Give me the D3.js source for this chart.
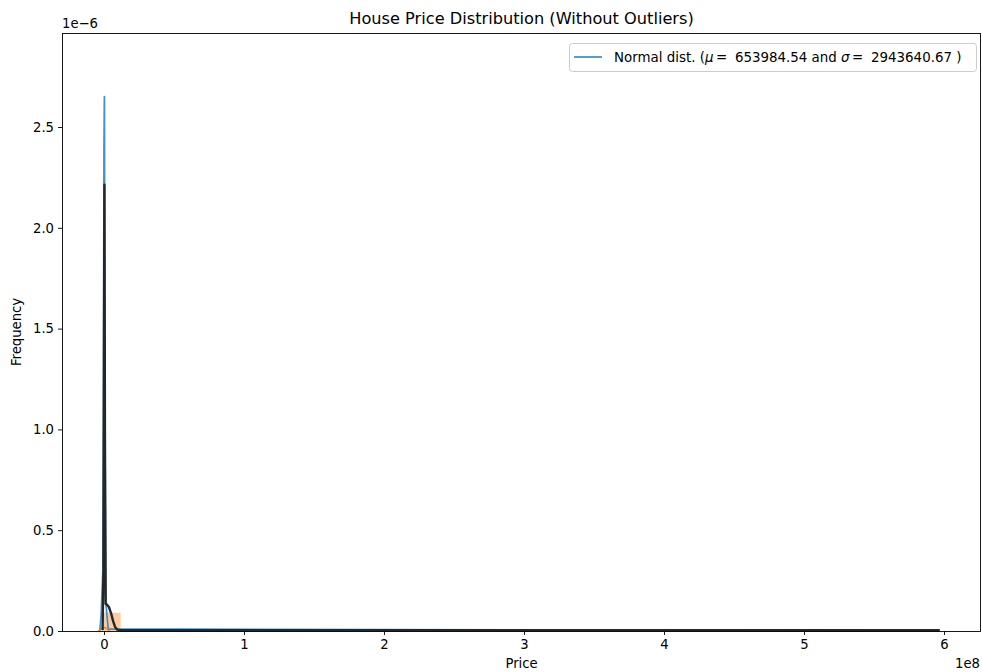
<!DOCTYPE html>
<html><head><meta charset="utf-8">
<script src="https://cdn.jsdelivr.net/npm/d3@7"></script>
<style>body{margin:0;background:#fff}svg{display:block;font-family:"DejaVu Sans",sans-serif}</style>
</head><body><svg id="c" width="982" height="672"></svg>
<script>
// values: x in units of 1e8, density in units of 1e-6
const xTicks = [0, 1, 2, 3, 4, 5, 6];
const yTicks = [0.0, 0.5, 1.0, 1.5, 2.0, 2.5];
const histStarts = [0.000, 0.119, 0.238];
const histWidth = 0.119;
const histDensity = [0.091, 0.001, 0.0005];
const kdeX = [-0.030, -0.020, -0.008, -0.003, 0.000, 0.003, 0.007, 0.012, 0.03, 5.97];
const kdeY = [0.0, 0.08, 0.30, 1.20, 2.40, 2.65, 1.00, 0.15, 0.01, 0.0];
const smallX = [-0.04, -0.02, 0.0, 0.02, 0.04];
const smallY = [0.0, 0.012, 0.018, 0.012, 0.0];
const fitX = [-0.010, -0.004, 0.000, 0.003, 0.007, 0.012, 0.020, 0.035, 0.050, 0.065, 0.080, 0.095, 0.12, 5.97];
const fitY = [0.0, 0.30, 1.50, 2.21, 0.90, 0.13, 0.128, 0.115, 0.085, 0.045, 0.015, 0.003, 0.0, 0.0];
const legendLabel = ["Normal dist. (", "μ", "=", " 653984.54 and ", "σ", "=", " 2943640.67 )"];

const svg = d3.select("#c");
const L = 62, R = 981, T = 33, B = 631;
const FS = 13.2;
const x = d3.scaleLinear().domain([-0.3, (R - 104) / 140]).range([L, R]);
const y = d3.scaleLinear().domain([0, (B - T) / 201.6]).range([B, T]);

const g = svg.append("g");
g.append("clipPath").attr("id","clip").append("rect").attr("x",L).attr("y",T).attr("width",R-L).attr("height",B-T+2);
const plot = g.append("g").attr("clip-path","url(#clip)");

// histogram
plot.selectAll("rect.bar").data(histStarts).join("rect")
  .attr("x", d => x(d)).attr("width", d => x(d + histWidth) - x(d))
  .attr("y", (d,i) => y(histDensity[i])).attr("height", (d,i) => y(0) - y(histDensity[i]))
  .attr("fill", "rgb(255,204,159)");

const line = (xs, ys) => d3.line().x((d,i)=>x(xs[i])).y((d,i)=>y(ys[i]))(xs);
plot.append("path").attr("d", line(kdeX, kdeY)).attr("fill","none").attr("stroke","rgb(66,146,208)").attr("stroke-width",1.8).attr("stroke-linejoin","round");
plot.append("path").attr("d", line(smallX, smallY)).attr("fill","none").attr("stroke","#ff7f0e").attr("stroke-width",1.6);
plot.append("path").attr("d", line(fitX, fitY)).attr("fill","none").attr("stroke","#262626").attr("stroke-width",2.4).attr("stroke-linejoin","round").attr("transform","translate(0,-0.8)");

// axes
const xa = g.append("g").attr("transform",`translate(0,${B})`).call(d3.axisBottom(x).tickValues(xTicks).tickFormat(d3.format("d")).tickSizeOuter(0).tickSize(4).tickPadding(4.5));
const ya = g.append("g").attr("transform",`translate(${L},0)`).call(d3.axisLeft(y).tickValues(yTicks).tickFormat(d3.format(".1f")).tickSizeOuter(0).tickSize(4).tickPadding(4));
[xa, ya].forEach(a => { a.select(".domain").remove(); a.selectAll("text").attr("font-size",FS).attr("fill","#000").attr("font-family","DejaVu Sans"); a.selectAll("line").attr("stroke","#000").attr("stroke-width",0.9); });

g.append("rect").attr("x",L+0.5).attr("y",T+0.5).attr("width",R-L-1).attr("height",B-T).attr("fill","none").attr("stroke","#000").attr("stroke-width",0.9);

// texts
svg.append("text").attr("x",(L+R)/2).attr("y",24).attr("text-anchor","middle").attr("font-size",16.2).text("House Price Distribution (Without Outliers)");
svg.append("text").attr("x",(L+R)/2).attr("y",668).attr("text-anchor","middle").attr("font-size",FS).text("Price");
svg.append("text").attr("transform",`translate(21,${(T+B)/2}) rotate(-90)`).attr("text-anchor","middle").attr("font-size",FS).text("Frequency");
svg.append("text").attr("x",L).attr("y",28).attr("font-size",FS).text("1e\u22126");
svg.append("text").attr("x",R-1).attr("y",668).attr("text-anchor","end").attr("font-size",FS).text("1e8");

// legend
const lg = svg.append("g");
lg.append("rect").attr("x",569.5).attr("y",43.5).attr("width",407).attr("height",28).attr("rx",3).attr("fill","#fff").attr("fill-opacity",0.8).attr("stroke","#ccc");
lg.append("line").attr("x1",574).attr("x2",602).attr("y1",57).attr("y2",57).attr("stroke","rgb(66,146,208)").attr("stroke-width",1.8);
const lt = lg.append("text").attr("x",614).attr("y",62).attr("font-size",13.4);
legendLabel.forEach((s,i) => lt.append("tspan").attr("font-style", (s==="μ"||s==="σ") ? "italic" : null).attr("dx", s==="=" ? 2.5 : (i===3||i===6) ? 3.5 : null).text(s));
</script></body></html>
